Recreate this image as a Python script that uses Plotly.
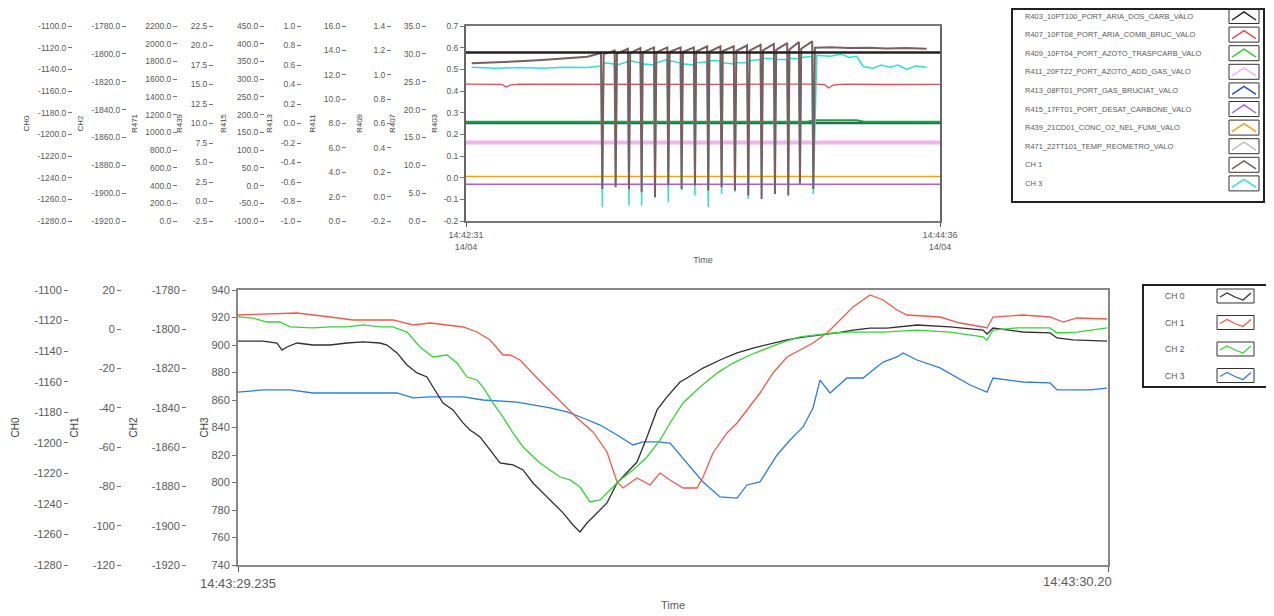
import plotly.graph_objects as go

# The page body has an 8px margin, so the figure is drawn 8px in from the top-left corner.
OFF = 8
W, H = 1274 - OFF, 616 - OFF
def px(x): return (x - OFF) / W
def py(y): return 1 - (y - OFF) / H

# ---------------- TOP CHART DATA (time in s from 14:42:31) ----------------
top_x_ticktext = ["14:42:31<br>14/04", "14:44:36<br>14/04"]
top_x_tickvals = [0, 125]

r403_t = [0, 40, 80, 125]
r403_v = [0.578, 0.578, 0.579, 0.578]
r407_t = [0, 5, 9.5, 10.5, 11.8, 14, 30, 50, 70, 90, 94.5, 95.6, 96.8, 100, 110, 125]
r407_v = [0.432, 0.430, 0.431, 0.418, 0.428, 0.432, 0.431, 0.433, 0.431, 0.432, 0.430, 0.414, 0.427, 0.432, 0.430, 0.431]
r409_t = [0, 90, 92, 103, 105, 125]
r409_v = [0.258, 0.258, 0.265, 0.265, 0.258, 0.258]
r411_t = [0, 60, 125]
r411_v = [0.162, 0.160, 0.162]
r413_t = [0, 125]
r413_v = [0.252, 0.252]
r415_t = [0, 125]
r415_v = [-0.030, -0.030]
r439_t = [0, 125]
r439_v = [0.005, 0.005]

ch1_top_t = [1.5, 8, 14, 20, 26, 32,
             35.6, 35.95, 36.3, 39.2, 39.46, 39.8, 42.7, 42.98, 43.3, 46.0, 46.32, 46.6,
             49.6, 49.84, 50.2, 53.1, 53.35, 53.7, 56.6, 56.86, 57.2, 60.1, 60.38, 60.7,
             63.6, 63.89, 64.2, 67.1, 67.41, 67.7, 70.6, 70.92, 71.3, 74.1, 74.44, 74.8,
             77.7, 77.95, 78.3, 81.2, 81.47, 81.8, 84.7, 84.99, 85.3, 87.8, 88.07, 88.4,
             91.3, 91.59, 92.0, 96, 101, 106, 111, 116, 121.5]
ch1_top_v = [0.528, 0.532, 0.537, 0.543, 0.550, 0.558,
             0.575, -0.052, 0.570, 0.586, -0.044, 0.572, 0.595, -0.052, 0.575, 0.598, -0.067, 0.578,
             0.601, -0.090, 0.578, 0.601, -0.036, 0.580, 0.601, -0.052, 0.580, 0.601, -0.036, 0.582,
             0.606, -0.059, 0.582, 0.606, -0.044, 0.584, 0.606, -0.059, 0.585, 0.610, -0.082, 0.586,
             0.613, -0.098, 0.588, 0.617, -0.075, 0.590, 0.621, -0.082, 0.592, 0.626, -0.028, 0.595,
             0.629, -0.052, 0.600, 0.602, 0.598, 0.600, 0.596, 0.598, 0.595]

ch3_top_t = [1.5, 8, 14, 20, 26, 32,
             35.6, 35.95, 36.3, 39.1, 39.46, 39.8, 42.6, 42.98, 43.3, 46.0, 46.32, 46.6,
             49.5, 49.84, 50.2, 53.0, 53.35, 53.7, 56.5, 56.86, 57.2, 60.0, 60.38, 60.7,
             63.5, 63.89, 64.2, 67.0, 67.41, 67.7, 70.6, 70.92, 71.3, 74.1, 74.44, 74.8,
             77.6, 77.95, 78.3, 81.1, 81.47, 81.8, 84.6, 84.99, 85.3, 87.7, 88.07, 88.4,
             91.2, 91.59, 92.5, 96, 99, 101, 103, 104.8, 107.4, 109.5, 111.8, 114, 116.2, 118.5, 121.5]
ch3_top_v = [0.510, 0.505, 0.508, 0.505, 0.510, 0.508,
             0.515, -0.136, 0.530, 0.525, -0.036, 0.520, 0.535, -0.129, 0.540, 0.530, -0.129, 0.525,
             0.520, -0.090, 0.530, 0.545, -0.113, 0.540, 0.530, -0.059, 0.525, 0.520, -0.082, 0.530,
             0.535, -0.136, 0.540, 0.540, -0.075, 0.530, 0.525, -0.067, 0.530, 0.530, -0.098, 0.540,
             0.545, -0.052, 0.550, 0.550, -0.075, 0.545, 0.545, -0.036, 0.550, 0.550, -0.021, 0.555,
             0.560, -0.075, 0.565, 0.560, 0.570, 0.555, 0.560, 0.513, 0.505, 0.520, 0.510, 0.520, 0.500, 0.515, 0.510]

# Top axis columns (title, tick values, axis x-pixel)
top_ax_titles = ["CH0", "CH2", "R471", "R439", "R415", "R413", "R411", "R409", "R407"]
top_ax_ticks = [
    [-1100, -1120, -1140, -1160, -1180, -1200, -1220, -1240, -1260, -1280],
    [-1780, -1800, -1820, -1840, -1860, -1880, -1900, -1920],
    [2200, 2000, 1800, 1600, 1400, 1200, 1000, 800, 600, 400, 200, 0],
    [22.5, 20.0, 17.5, 15.0, 12.5, 10.0, 7.5, 5.0, 2.5, 0.0, -2.5],
    [450, 400, 350, 300, 250, 200, 150, 100, 50, 0, -50, -100],
    [1.0, 0.8, 0.6, 0.4, 0.2, 0.0, -0.2, -0.4, -0.6, -0.8, -1.0],
    [16.0, 14.0, 12.0, 10.0, 8.0, 6.0, 4.0, 2.0, 0.0],
    [1.4, 1.2, 1.0, 0.8, 0.6, 0.4, 0.2, 0.0, -0.2],
    [35.0, 30.0, 25.0, 20.0, 15.0, 10.0, 5.0, 0.0],
]
top_ax_px = [72, 126, 177, 213, 264, 301, 346, 391, 426]
top_main_title = "R403"
top_main_ticks = [0.7, 0.6, 0.5, 0.4, 0.3, 0.2, 0.1, 0.0, -0.1, -0.2]

top_legend_names = ["R403_10PT100_PORT_ARIA_DOS_CARB_VALO", "R407_10FT08_PORT_ARIA_COMB_BRUC_VALO",
                    "R409_10FT04_PORT_AZOTO_TRASPCARB_VALO", "R411_20FT22_PORT_AZOTO_ADD_GAS_VALO",
                    "R413_08FT01_PORT_GAS_BRUCIAT_VALO", "R415_17FT01_PORT_DESAT_CARBONE_VALO",
                    "R439_21CD01_CONC_O2_NEL_FUMI_VALO", "R471_22TT101_TEMP_REOMETRO_VALO",
                    "CH 1", "CH 3"]
top_colors = ["#222222", "#e05050", "#33cc33", "#f0b4ee", "#2255cc", "#a860e0",
              "#f0a020", "#d9d2d2", "#7b5e5e", "#30e0d0"]

# ---------------- BOTTOM CHART DATA (time in ms from 14:43:29.235) ----------------
bot_x_ticktext = ["14:43:29.235", "14:43:30.20"]
bot_x_range = [0, 970]

ch0_t = [0, 27.9, 43.5, 49.1, 54.6, 65.8, 83.6, 102.6, 121.5, 139.4, 158.3, 166.1, 177.3, 188.4, 199.6,
         210.7, 217.4, 228.6, 239.7, 250.9, 258.7, 269.8, 281.0, 292.1, 306.6, 317.8, 328.9, 340.1,
         351.2, 362.4, 373.5, 381.3, 389.1, 400.3, 411.4, 422.6, 433.7, 444.9, 456.0, 467.2, 478.3,
         492.8, 500.6, 518.5, 537.4, 556.4, 574.2, 593.2, 612.1, 630.0, 648.9, 667.9, 685.7, 704.7,
         723.6, 757.1, 793.9, 830.7, 835.1, 841.8, 875.3, 905.4, 913.2, 931.0, 968.9]
ch0_v = [-1133.4, -1133.4, -1134.7, -1139.3, -1137.3, -1134.7, -1136.0, -1136.0, -1134.7, -1134.0,
         -1134.7, -1136.0, -1141.2, -1149.1, -1154.3, -1156.9, -1163.5, -1174.0, -1178.5, -1187.0,
         -1191.6, -1196.2, -1204.7, -1213.2, -1214.5, -1217.8, -1226.3, -1232.9, -1239.4, -1245.9,
         -1253.8, -1258.4, -1252.5, -1245.9, -1239.4, -1226.3, -1219.8, -1212.6, -1196.2, -1178.5,
         -1170.0, -1160.2, -1157.6, -1151.1, -1145.8, -1141.2, -1138.0, -1135.3, -1132.7, -1130.8,
         -1129.5, -1128.1, -1126.2, -1124.9, -1124.9, -1122.9, -1124.2, -1126.2, -1128.8, -1124.9,
         -1127.5, -1128.1, -1131.4, -1132.7, -1133.4]

ch1_t = [0, 27.9, 65.8, 102.6, 128.2, 150.5, 172.8, 195.1, 214.1, 233.0, 250.9, 266.5, 281.0, 295.5,
         303.3, 314.4, 333.4, 355.7, 378.0, 395.8, 411.4, 422.6, 429.3, 444.9, 459.4, 470.5, 481.7,
         496.2, 511.8, 518.5, 529.6, 545.2, 556.4, 567.5, 582.0, 596.5, 612.1, 626.6, 641.1, 656.7,
         671.2, 685.7, 704.7, 719.2, 734.8, 745.9, 782.7, 805.0, 830.7, 835.1, 841.8, 875.3, 905.4,
         919.9, 935.5, 968.9]
ch1_v = [7.27, 7.78, 8.29, 6.25, 4.73, 4.73, 4.73, 2.18, 3.20, 2.18, 1.16, -1.38, -5.45, -13.09,
         -13.09, -15.64, -24.80, -34.98, -45.16, -52.29, -62.47, -77.75, -80.80, -75.71, -79.27,
         -73.17, -76.73, -80.80, -80.80, -75.20, -62.98, -52.80, -47.71, -41.09, -32.44, -22.26,
         -14.11, -10.55, -6.98, -1.89, 4.73, 11.35, 17.45, 14.91, 9.82, 7.27, 6.25, 3.20, 1.16, 0.65,
         6.25, 7.27, 6.25, 3.71, 5.75, 5.24]

ch2_t = [0, 16.7, 32.3, 46.8, 58.0, 83.6, 102.6, 121.5, 139.4, 158.3, 172.8, 188.4, 202.9, 217.4,
         233.0, 244.2, 255.3, 266.5, 273.2, 284.3, 295.5, 306.6, 317.8, 328.9, 336.7, 347.9, 359.0,
         370.2, 381.3, 392.5, 403.6, 414.8, 425.9, 440.4, 456.0, 470.5, 481.7, 496.2, 515.1, 534.1,
         551.9, 570.9, 589.8, 607.7, 626.6, 645.6, 663.4, 682.4, 719.2, 757.1, 793.9, 830.7, 835.1,
         841.8, 868.6, 905.4, 913.2, 935.5, 968.9]
ch2_v = [-1793.7, -1794.3, -1796.3, -1796.3, -1798.8, -1799.3, -1798.8, -1798.8, -1797.8, -1798.8,
         -1798.8, -1801.4, -1809.0, -1814.1, -1813.1, -1817.2, -1824.3, -1825.8, -1829.4, -1837.5,
         -1844.7, -1852.8, -1859.9, -1865.0, -1868.1, -1871.6, -1875.2, -1876.7, -1880.3, -1887.9,
         -1886.9, -1881.8, -1876.7, -1871.6, -1865.0, -1856.4, -1847.7, -1837.5, -1829.4, -1822.3,
         -1817.2, -1813.1, -1809.5, -1806.5, -1803.9, -1802.9, -1801.9, -1801.4, -1801.4, -1800.4,
         -1801.4, -1803.9, -1805.5, -1800.4, -1799.3, -1799.3, -1801.9, -1801.4, -1799.3]

ch3_t = [0, 27.9, 58.0, 83.6, 102.6, 139.4, 177.3, 195.1, 214.1, 233.0, 250.9, 273.2, 311.1, 347.9,
         366.8, 384.7, 403.6, 422.6, 440.4, 451.6, 467.2, 481.7, 496.2, 518.5, 537.4, 556.4, 567.5,
         582.0, 601.0, 615.5, 630.0, 641.1, 648.9, 660.1, 679.0, 696.9, 719.2, 734.8, 741.5, 757.1,
         782.7, 801.7, 816.2, 835.1, 841.8, 875.3, 905.4, 913.2, 950.0, 968.9]
ch3_v = [865.8, 867.3, 867.3, 865.1, 865.1, 865.1, 865.1, 861.5, 862.2, 862.2, 862.2, 860.0, 858.5,
         854.2, 851.3, 846.9, 841.8, 834.5, 827.3, 829.5, 829.5, 828.7, 817.8, 800.4, 789.5, 788.7,
         798.2, 800.4, 820.0, 830.9, 840.4, 854.2, 874.5, 865.1, 876.0, 876.0, 887.6, 891.3, 894.2,
         889.1, 883.3, 876.0, 870.9, 865.8, 876.0, 873.1, 872.4, 867.3, 867.3, 868.7]

bot_ax_titles = ["CH0", "CH1", "CH2"]
bot_ax_ticks = [
    [-1100, -1120, -1140, -1160, -1180, -1200, -1220, -1240, -1260, -1280],
    [20, 0, -20, -40, -60, -80, -100, -120],
    [-1780, -1800, -1820, -1840, -1860, -1880, -1900, -1920],
]
bot_ax_px = [68, 121, 186]
bot_main_title = "CH3"
bot_main_ticks = [940, 920, 900, 880, 860, 840, 820, 800, 780, 760, 740]
bot_names = ["CH 0", "CH 1", "CH 2", "CH 3"]
bot_colors = ["#303030", "#f05a4a", "#33d633", "#2a7de1"]

# ---------------- FIGURE ----------------
FONT = "Liberation Sans"
TXT = "#5a5a5a"
fig = go.Figure()

def top_line(t, v, color, width):
    fig.add_trace(go.Scatter(x=t, y=v, mode="lines", line=dict(color=color, width=width),
                             xaxis="x", yaxis="y", showlegend=False, hoverinfo="skip"))

top_line(r411_t, r411_v, top_colors[3], 4)
top_line(r439_t, r439_v, top_colors[6], 1.5)
top_line(r415_t, r415_v, top_colors[5], 1.5)
top_line(r413_t, r413_v, "#1f6f55", 2.5)
top_line(r409_t, r409_v, "#2a9a4a", 2)
top_line(r407_t, r407_v, top_colors[1], 1.3)
top_line(ch3_top_t, ch3_top_v, top_colors[9], 1.5)
top_line(ch1_top_t, ch1_top_v, top_colors[8], 2)
top_line(r403_t, r403_v, top_colors[0], 2.5)

# placeholder traces so that every extra value axis of the top chart is drawn
for i in range(len(top_ax_titles)):
    fig.add_trace(go.Scatter(x=[None], y=[None], mode="lines", xaxis="x", yaxis="y%d" % (i + 3),
                             showlegend=False, hoverinfo="skip"))

bot_data = [(ch0_t, ch0_v, "y12"), (ch1_t, ch1_v, "y13"), (ch2_t, ch2_v, "y14"), (ch3_t, ch3_v, "y2")]
for (t, v, ya), c in zip(bot_data, bot_colors):
    fig.add_trace(go.Scatter(x=t, y=v, mode="lines", line=dict(color=c, width=1.3),
                             xaxis="x2", yaxis=ya, showlegend=False, hoverinfo="skip"))

top_dom = [py(221), py(26)]
bot_dom = [py(565), py(290)]

def fmt1(v):
    return "%.1f" % v

def fmt0(v):
    return "%d" % v

def yax_common(size):
    return dict(ticks="outside", ticklen=4, tickcolor="#777", showgrid=False, zeroline=False,
                automargin=False, tickfont=dict(family=FONT, size=size, color=TXT), side="left")

layout = dict(
    width=W, height=H, margin=dict(l=0, r=0, t=0, b=0, autoexpand=False),
    paper_bgcolor="white", plot_bgcolor="white", showlegend=False,
    font=dict(family=FONT, color=TXT),
    xaxis=dict(domain=[px(466), px(940)], range=[0, 125], tickvals=top_x_tickvals,
               ticktext=top_x_ticktext, ticks="outside", ticklen=4, tickcolor="#555",
               showline=True, linecolor="#777", linewidth=2, mirror=True, showgrid=False,
               zeroline=False, automargin=False, tickfont=dict(family=FONT, size=9, color=TXT), anchor="y",
               title=dict(text="Time", font=dict(family=FONT, size=9, color=TXT), standoff=6)),
    yaxis=dict(domain=top_dom, range=[-0.2, 0.7], tickvals=top_main_ticks,
               ticktext=[fmt1(v) for v in top_main_ticks],
               showline=True, linecolor="#666", linewidth=2, mirror=True, anchor="x",
               title=dict(text=top_main_title, font=dict(family=FONT, size=8, color="#444"), standoff=5),
               **yax_common(8.5)),
    xaxis2=dict(domain=[px(238), px(1108)], range=bot_x_range, tickvals=[bot_x_range[0], bot_x_range[1]],
                ticktext=[bot_x_ticktext[0], ""], ticks="outside", ticklen=5, tickcolor="#555",
                showline=True, linecolor="#888", linewidth=2, mirror=True, showgrid=False,
                zeroline=False, automargin=False, tickfont=dict(family=FONT, size=13, color=TXT), anchor="y2",
                title=dict(text="Time", font=dict(family=FONT, size=11, color=TXT), standoff=12)),
    yaxis2=dict(domain=bot_dom, range=[740, 940], tickvals=bot_main_ticks,
                ticktext=[fmt0(v) for v in bot_main_ticks], anchor="x2",
                showline=True, linecolor="#888", linewidth=2, mirror=True,
                title=dict(text=bot_main_title, font=dict(family=FONT, size=10, color="#444"), standoff=1),
                **yax_common(11)),
)

for i, (ttl, tk, xp) in enumerate(zip(top_ax_titles, top_ax_ticks, top_ax_px)):
    layout["yaxis%d" % (i + 3)] = dict(
        overlaying="y", anchor="free", position=px(xp), range=[min(tk), max(tk)], tickvals=tk,
        ticktext=[fmt1(v) for v in tk], showline=False,
        title=dict(text=ttl, font=dict(family=FONT, size=8, color="#444"), standoff=5),
        **yax_common(8.5))

for i, (ttl, tk, xp) in enumerate(zip(bot_ax_titles, bot_ax_ticks, bot_ax_px)):
    layout["yaxis%d" % (i + 12)] = dict(
        overlaying="y2", anchor="free", position=px(xp), range=[min(tk), max(tk)], tickvals=tk,
        ticktext=[fmt0(v) for v in tk], showline=False,
        title=dict(text=ttl, font=dict(family=FONT, size=10, color="#444"), standoff=11),
        **yax_common(11))

fig.update_layout(**layout)

shapes = []
annotations = []

# right-end x label of bottom chart
annotations.append(dict(x=px(1114), y=py(581), xref="paper", yref="paper", text=bot_x_ticktext[1],
                        showarrow=False, xanchor="right", yanchor="middle",
                        font=dict(family=FONT, size=13, color=TXT)))

# ---- top legend (manual, symbol on the right) ----
shapes.append(dict(type="rect", xref="paper", yref="paper", x0=px(1012), x1=px(1264), y0=py(202), y1=py(9),
                   line=dict(color="#222", width=2), fillcolor="white", layer="below"))
for i, (name, col) in enumerate(zip(top_legend_names, top_colors)):
    yc = 16 + i * 18.6
    annotations.append(dict(x=px(1023), y=py(yc), xref="paper", yref="paper", text=name, showarrow=False,
                            xanchor="left", yanchor="middle", font=dict(family=FONT, size=7.5, color=TXT)))
    shapes.append(dict(type="rect", xref="paper", yref="paper", x0=px(1229), x1=px(1259),
                       y0=py(yc + 7.5), y1=py(yc - 7.5), line=dict(color="#333", width=1)))
    path = "M %f,%f L %f,%f L %f,%f" % (px(1232), py(yc + 4), px(1244), py(yc - 4), px(1256), py(yc + 4))
    shapes.append(dict(type="path", xref="paper", yref="paper", path=path,
                       line=dict(color=col if col != "#d9d2d2" else "#c8bcbc", width=1.5)))

# ---- bottom legend ----
shapes.append(dict(type="rect", xref="paper", yref="paper", x0=px(1143), x1=px(1270), y0=py(387), y1=py(285),
                   line=dict(color="#222", width=2), fillcolor="white", layer="below"))
for i, (name, col) in enumerate(zip(bot_names, bot_colors)):
    yc = 296 + i * 26.5
    annotations.append(dict(x=px(1163), y=py(yc), xref="paper", yref="paper", text=name, showarrow=False,
                            xanchor="left", yanchor="middle", font=dict(family=FONT, size=8.5, color=TXT)))
    shapes.append(dict(type="rect", xref="paper", yref="paper", x0=px(1217), x1=px(1254),
                       y0=py(yc + 7), y1=py(yc - 7), line=dict(color="#333", width=1)))
    path = "M %f,%f L %f,%f L %f,%f L %f,%f L %f,%f" % (
        px(1220), py(yc + 1), px(1227), py(yc - 3), px(1235), py(yc + 1), px(1243), py(yc + 4), px(1251), py(yc - 3))
    shapes.append(dict(type="path", xref="paper", yref="paper", path=path, line=dict(color=col, width=1.2)))

fig.update_layout(shapes=shapes, annotations=annotations)
fig.write_html("out.html", config={"displayModeBar": False})
